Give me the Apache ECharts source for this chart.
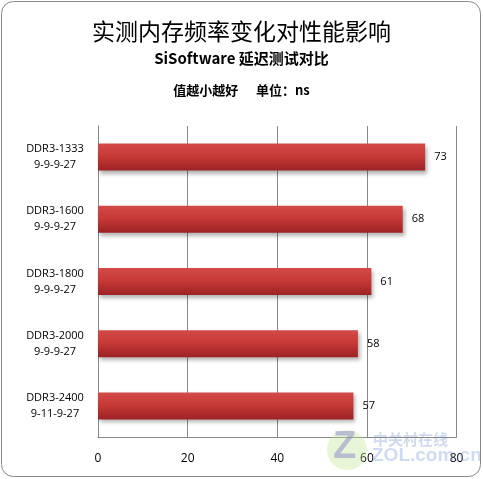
<!DOCTYPE html>
<html>
<head>
<meta charset="utf-8">
<script src="https://cdn.jsdelivr.net/npm/echarts@6/dist/echarts.min.js"></script>
<style>html,body{margin:0;padding:0;background:#fff}#c{width:483px;height:479px}</style>
</head>
<body>
<div id="c"></div>
<script>
const categories = ['DDR3-1333\n9-9-9-27','DDR3-1600\n9-9-9-27','DDR3-1800\n9-9-9-27','DDR3-2000\n9-9-9-27','DDR3-2400\n9-11-9-27'];
const latency = [73, 68, 61, 58, 57];
const xTicks = [0, 20, 40, 60, 80];

const chart = echarts.init(document.getElementById('c'), null, {renderer:'canvas'});
chart.setOption({
  backgroundColor: '#fff',
  animation: false,
  title: [
    {text: '实测内存频率变化对性能影响', left: 'center', top: 15,
     textStyle: {fontFamily: 'Noto Sans CJK SC', fontSize: 23, fontWeight: 'normal', color: '#000'}},
    {text: 'SiSoftware 延迟测试对比', left: 'center', top: 46,
     textStyle: {fontFamily: 'Noto Sans CJK SC', fontSize: 15, fontWeight: 'bold', color: '#000'}},
    {text: '值越小越好      单位：ns', left: 'center', top: 79,
     textStyle: {fontFamily: 'Noto Sans CJK SC', fontSize: 13, fontWeight: 'bold', color: '#000'}}
  ],
  grid: {left: 98, right: 26.5, top: 126, bottom: 42},
  xAxis: {
    type: 'value', min: xTicks[0], max: xTicks[xTicks.length-1], interval: 20,
    axisLine: {show: true, lineStyle: {color: '#888'}},
    axisTick: {show: false},
    splitLine: {show: true, lineStyle: {color: '#888', width: 1}},
    axisLabel: {color: '#000', fontSize: 12, fontFamily: 'Open Sans', margin: 16}
  },
  yAxis: {
    type: 'category', data: categories, inverse: true,
    axisLine: {show: true, lineStyle: {color: '#888'}},
    axisTick: {show: false},
    axisLabel: {color: '#000', fontSize: 11, fontFamily: 'Open Sans', margin: 43, align: 'center', lineHeight: 16},
    splitLine: {show: false}
  },
  series: [{
    type: 'bar', data: latency, barWidth: 27,
    itemStyle: {
      color: new echarts.graphic.LinearGradient(0,0,0,1,[
        {offset: 0, color: '#d24a48'},
        {offset: 0.45, color: '#c83a38'},
        {offset: 1, color: '#9c2224'}
      ]),
      shadowColor: 'rgba(0,0,0,0.3)', shadowBlur: 4, shadowOffsetX: 2, shadowOffsetY: 3
    },
    label: {show: true, position: 'right', distance: 9, color: '#000', fontSize: 11, fontFamily: 'Open Sans'}
  }],
  graphic: [
    {type: 'rect', shape: {x: 1.5, y: 1.5, width: 479, height: 475, r: 12},
     style: {fill: 'none', stroke: '#888', lineWidth: 1}, silent: true, z: 100},
    {type: 'circle', shape: {cx: 347, cy: 450, r: 20}, style: {fill: 'rgba(190,225,140,0.35)'}, silent: true, z: 49},
    {type: 'text', left: 333, top: 429, style: {text: 'Z', fill: 'rgba(130,120,200,0.45)', font: 'bold 38px "Liberation Sans"'}, silent: true, z: 50},
    {type: 'text', left: 373, top: 432, style: {text: '中关村在线', fill: 'rgba(120,150,200,0.35)', font: 'bold 15px "Noto Sans CJK SC"'}, silent: true, z: 50},
    {type: 'text', left: 372, top: 446, style: {text: 'ZOL.com.cn', fill: 'rgba(120,150,210,0.35)', font: 'bold 19px "Liberation Sans"'}, silent: true, z: 50}
  ]
});
</script>
</body>
</html>
